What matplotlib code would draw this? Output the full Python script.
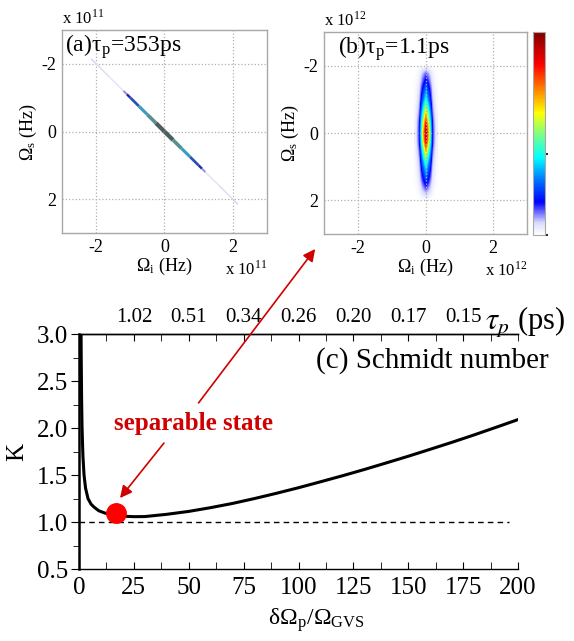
import numpy as np
import matplotlib
matplotlib.use('Agg')
import matplotlib.pyplot as plt
from matplotlib.collections import LineCollection
from matplotlib.colors import LinearSegmentedColormap

plt.rcParams['font.family'] = ['Liberation Serif', 'DejaVu Serif']
plt.rcParams['mathtext.fontset'] = 'stix'
plt.rcParams['axes.unicode_minus'] = False

# (a) intensity along the diagonal Omega_s = Omega_i (units 1e11 Hz)
a_pos = [-2.15, -2.0, -1.6, -1.2, -1.1, -1.0, -0.75, -0.5, -0.25, 0.0,
         0.25, 0.5, 0.75, 1.0, 1.1, 1.2, 1.6, 2.0, 2.15]
a_int = [0.08, 0.15, 0.04, 0.12, 0.35, 0.42, 0.55, 0.65, 0.85, 1.0,
         0.85, 0.65, 0.55, 0.42, 0.35, 0.12, 0.04, 0.15, 0.08]

# (b) joint spectrum, separable profiles (units 1e12 Hz)
b_os = [-2.0, -1.75, -1.5, -1.25, -1.0, -0.75, -0.5, -0.25, 0.0,
        0.25, 0.5, 0.75, 1.0, 1.25, 1.5, 1.75, 2.0]
b_os_prof = [0.0, 0.12, 0.2, 0.3, 0.4, 0.55, 0.72, 0.88, 0.97,
             0.9, 0.7, 0.52, 0.38, 0.28, 0.18, 0.08, 0.0]
b_oi = [-0.3, -0.2, -0.1, 0.0, 0.1, 0.2, 0.3]
b_oi_prof = [0.03, 0.15, 0.6, 1.0, 0.6, 0.15, 0.03]

# (c) Schmidt number
x_c = [0.9, 1.0, 1.2, 1.4, 1.8, 2.3, 3.0, 4.1, 5.5, 6.8, 9, 11.7, 15, 20, 25,
       30, 40, 50, 60, 70, 80, 90, 100, 110, 120, 130, 140, 150, 160, 170,
       180, 190, 200]
K_c = [3.2, 2.8, 2.3, 2.0, 1.7, 1.5, 1.36, 1.25, 1.19, 1.16, 1.12, 1.096, 1.075,
       1.062, 1.057, 1.058, 1.082, 1.113, 1.153, 1.198, 1.25, 1.306, 1.365,
       1.428, 1.492, 1.559, 1.629, 1.70, 1.774, 1.849, 1.927, 2.008, 2.09]
top_pos = [25, 50, 75, 100, 125, 150, 175]
top_lab = ['1.02', '0.51', '0.34', '0.26', '0.20', '0.17', '0.15']
sep_x, sep_K = 16.9, 1.096

fig = plt.figure(figsize=(5.74, 6.41), dpi=100)

jetw = LinearSegmentedColormap.from_list('jetw', [
    (0.0, 'white'), (0.06, '#d8d8ff'), (0.16, '#0000ff'), (0.28, '#0080ff'),
    (0.38, '#00ffff'), (0.5, '#80ff80'), (0.6, '#ffff00'), (0.72, '#ff8000'),
    (0.84, '#ff0000'), (1.0, '#800000')])
cmap_a = LinearSegmentedColormap.from_list('cmap_a', [
    (0.0, 'white'), (0.15, '#c8c8f0'), (0.4, '#1a1aa8'), (0.6, '#3a9cc0'),
    (0.75, '#5a9090'), (1.0, '#4a4a4a')])


def style_map(ax, exp):
    ax.set_xlim(-3, 3)
    ax.set_ylim(3, -3)
    ax.set_xticks([-2, 0, 2])
    ax.set_yticks([-2, 0, 2])
    ax.grid(True, color='#b0b0b0', linestyle=':', linewidth=0.9)
    ax.tick_params(length=0, labelsize=13, pad=4)
    for s in ax.spines.values():
        s.set_color('#a8a8a8')
        s.set_linewidth(1.0)
    ax.set_xlabel(r'Ω$_\mathregular{i}$ (Hz)', fontsize=13, labelpad=0)
    ax.set_ylabel(r'Ω$_\mathregular{s}$ (Hz)', fontsize=13, labelpad=2)
    ax.text(0.0, 1.01, r'x 10$^\mathregular{%d}$' % exp, transform=ax.transAxes,
            fontsize=12, ha='left', va='bottom')
    ax.text(1.0, -0.135, r'x 10$^\mathregular{%d}$' % exp, transform=ax.transAxes,
            fontsize=12, ha='right', va='top')


# panel (a)
ax_a = fig.add_axes([0.108, 0.6365, 0.357, 0.3167])
pts = np.array(a_pos)
segs = [[(pts[i], pts[i]), (pts[i + 1], pts[i + 1])] for i in range(len(pts) - 1)]
seg_val = [(a_int[i] + a_int[i + 1]) / 2 for i in range(len(pts) - 1)]
lc = LineCollection(segs, cmap=cmap_a, linewidths=[0.8 + 2.4 * v for v in seg_val],
                    capstyle='butt')
lc.set_array(np.array(seg_val))
lc.set_clim(0, 1)
ax_a.add_collection(lc)
style_map(ax_a, 11)
ax_a.text(-2.9, -2.5, r'(a)τ$_\mathregular{p}$=353ps', fontsize=17, va='center')

# panel (b)
ax_b = fig.add_axes([0.5645, 0.635, 0.3537, 0.315])
Z = np.outer(b_os_prof, b_oi_prof)
im = ax_b.imshow(Z, cmap=jetw, vmin=0, vmax=1, interpolation='bilinear',
                 extent=[b_oi[0] - 0.05, b_oi[-1] + 0.05, b_os[-1] + 0.125, b_os[0] - 0.125],
                 aspect='auto', zorder=0)
style_map(ax_b, 12)
ax_b.set_axisbelow(False)
ax_b.text(-2.6, -2.5, r'(b)τ$_\mathregular{p}$=1.1ps', fontsize=17, va='center')

cax = fig.add_axes([0.9286, 0.6334, 0.0209, 0.3167])
cb = fig.colorbar(im, cax=cax)
cb.outline.set_edgecolor('#a8a8a8')
cb.set_ticks([0.0, 0.4])
cb.ax.tick_params(length=2, labelsize=1, labelcolor='white', color='black', width=1.2)

# panel (c)
ax_c = fig.add_axes([0.1376, 0.1123, 0.765, 0.3666])
ax_c.plot(x_c, K_c, color='black', linewidth=2.2, zorder=3)
ax_c.hlines(1.0, 0, 196, colors='black', linestyles=(0, (4, 3)), linewidth=1.0)
ax_c.plot(sep_x, sep_K, 'o', color='#ff0000', markersize=14, zorder=4)
ax_c.set_xlim(0, 200)
ax_c.set_ylim(0.5, 3.0)
ax_c.set_xticks(np.arange(0, 201, 25))
ax_c.set_xticks(np.arange(0, 201, 12.5), minor=True)
ax_c.set_yticks([0.5, 1.0, 1.5, 2.0, 2.5, 3.0])
ax_c.set_yticklabels(['0.5', '1.0', '1.5', '2.0', '2.5', '3.0'])
ax_c.set_yticks(np.arange(0.5, 3.01, 0.25), minor=True)
ax_c.spines['right'].set_visible(False)
ax_c.spines['left'].set_linewidth(1.8)
ax_c.spines['bottom'].set_linewidth(1.0)
ax_c.spines['top'].set_linewidth(1.0)
ax_c.tick_params(axis='x', which='both', direction='in', length=5, labelsize=18, pad=6)
ax_c.tick_params(axis='y', which='major', direction='out', length=6, labelsize=18, pad=2)
ax_c.tick_params(axis='y', which='minor', direction='out', length=4)
ax_c.set_ylabel('K', fontsize=18, labelpad=6)
ax_c.set_xlabel(r'δΩ$_\mathregular{p}$/Ω$_\mathregular{GVS}$', fontsize=17, labelpad=5)
ax_c.xaxis.label.set_x(0.54)

ax_t = ax_c.secondary_xaxis('top')
ax_t.set_xticks(top_pos)
ax_t.set_xticklabels(top_lab)
ax_t.set_xticks(np.arange(0, 201, 12.5), minor=True)
ax_t.tick_params(axis='x', which='both', direction='in', length=5, labelsize=15, pad=5)
ax_t.spines['top'].set_linewidth(1.0)
ax_c.text(185, 3.12, r'$\tau_p$ (ps)', fontsize=22, ha='left', va='center')

fig.text(0.956, 0.437, '(c) Schmidt number', fontsize=21, ha='right', va='center')
ax_c.text(52, 2.05, 'separable state', color='#d00000', fontsize=18,
          fontweight='bold', ha='center', va='center')
ax_c.annotate('', xy=(18.7, 1.255), xytext=(38.7, 1.84),
              arrowprops=dict(arrowstyle='-|>', color='#d00000', lw=1.2,
                              mutation_scale=18, shrinkA=0, shrinkB=0))
fig.patches.append(matplotlib.patches.FancyArrowPatch(
    (0.343, 0.368), (0.552, 0.615), transform=fig.transFigure,
    arrowstyle='-|>', color='#d00000', lw=1.2, mutation_scale=18))

fig.savefig('out.png', dpi=100)
